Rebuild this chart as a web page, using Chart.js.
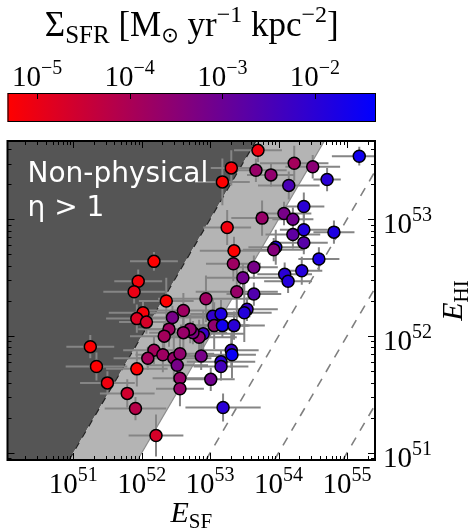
<!DOCTYPE html>
<html>
<body style="margin:0;background:#fff">
<canvas id="chart" width="474" height="532"></canvas>
<script src="https://cdn.jsdelivr.net/npm/chart.js@4/dist/chart.umd.min.js"></script>
<script>
// log10 of E_SF, E_HI and Sigma_SFR for each galaxy
const logESF = [53.70, 53.31, 53.18, 53.67, 53.89, 54.23, 54.50, 54.15, 54.71, 55.18,
  54.37, 53.76, 54.08, 54.21, 53.25, 54.37, 54.81, 54.21, 54.37, 53.96,
  53.93, 53.35, 53.34, 53.64, 54.59, 53.48, 54.09, 54.14, 54.34, 53.39,
  53.64, 52.94, 53.54, 53.50, 53.04, 53.16, 53.06, 53.18, 53.35, 52.90,
  52.84, 52.75, 52.71, 52.61, 52.18, 51.95, 51.89, 52.36, 52.61, 52.45,
  52.02, 51.93, 52.07, 52.40, 52.33, 51.25, 52.18, 52.09, 52.31, 52.47,
  52.56, 52.52, 52.56, 52.56, 51.34, 51.50, 51.93, 51.79, 51.91, 52.21,
  52.87, 53.31, 53.32, 53.16, 53.16, 53.01, 53.19];
const logEHI = [53.59, 53.44, 53.32, 53.42, 53.38, 53.48, 53.45, 53.29, 53.34, 53.54,
  53.11, 53.01, 53.05, 53.00, 52.93, 52.91, 52.89, 52.87, 52.80, 52.76,
  52.74, 52.73, 52.62, 52.59, 52.66, 52.50, 52.53, 52.47, 52.56, 52.38,
  52.36, 52.32, 52.23, 52.20, 52.17, 52.19, 52.09, 52.09, 52.09, 52.02,
  51.99, 52.03, 52.06, 52.03, 52.64, 52.47, 52.38, 52.30, 52.22, 52.16,
  52.20, 52.15, 52.12, 52.06, 52.00, 51.91, 51.88, 51.81, 51.84, 51.81,
  51.85, 51.75, 51.64, 51.55, 51.74, 51.60, 51.72, 51.51, 51.38, 51.15,
  51.83, 51.88, 51.84, 51.78, 51.74, 51.63, 51.39];
const logSigma = [-5.1, -5.2, -5.3, -3.7, -3.6, -3.9, -3.5, -2.5, -2.0, -1.6,
  -2.0, -3.7, -3.2, -3.1, -5.1, -1.9, -1.8, -2.8, -2.7, -1.8,
  -3.4, -5.3, -3.8, -3.2, -1.8, -3.1, -2.0, -1.9, -1.9, -3.7,
  -2.6, -3.8, -2.2, -1.9, -2.1, -1.8, -3.6, -1.6, -2.0, -2.2,
  -3.6, -3.3, -3.6, -3.7, -5.3, -5.2, -5.0, -5.3, -3.8, -3.2,
  -5.2, -4.8, -4.7, -3.8, -3.9, -5.3, -3.9, -3.9, -3.8, -3.7,
  -3.6, -3.2, -3.7, -3.7, -5.3, -5.1, -5.3, -4.6, -4.2, -4.7,
  -3.2, -2.2, -1.5, -2.0, -2.4, -3.1, -2.0];
// error bars in dex
const errESF = [0.35, 0.30, 0.40, 0.45, 0.35, 0.50, 0.40, 0.45, 0.20, 0.40,
  0.30, 0.45, 0.40, 0.30, 0.35, 0.35, 0.30, 0.40, 0.35, 0.40,
  0.45, 0.50, 0.40, 0.35, 0.30, 0.55, 0.40, 0.35, 0.30, 0.60,
  0.40, 0.70, 0.45, 0.40, 0.55, 0.45, 0.50, 0.40, 0.45, 0.60,
  0.55, 0.50, 0.60, 0.50, 0.35, 0.35, 0.45, 0.40, 0.60, 0.55,
  0.50, 0.45, 0.40, 0.45, 0.50, 0.35, 0.45, 0.50, 0.40, 0.55,
  0.50, 0.45, 0.40, 0.35, 0.45, 0.40, 0.45, 0.40, 0.45, 0.40,
  0.45, 0.40, 0.35, 0.50, 0.40, 0.35, 0.55];
const errEHI = [0.10, 0.15, 0.20, 0.10, 0.10, 0.15, 0.10, 0.12, 0.10, 0.08,
  0.12, 0.15, 0.10, 0.10, 0.15, 0.15, 0.10, 0.12, 0.10, 0.15,
  0.10, 0.12, 0.15, 0.10, 0.10, 0.12, 0.10, 0.10, 0.12, 0.25,
  0.10, 0.20, 0.10, 0.25, 0.15, 0.12, 0.20, 0.10, 0.12, 0.20,
  0.15, 0.10, 0.12, 0.15, 0.08, 0.10, 0.10, 0.20, 0.15, 0.10,
  0.10, 0.12, 0.10, 0.15, 0.12, 0.10, 0.12, 0.10, 0.15, 0.20,
  0.15, 0.10, 0.12, 0.15, 0.12, 0.10, 0.15, 0.12, 0.10, 0.18,
  0.12, 0.15, 0.20, 0.10, 0.12, 0.10, 0.12];

const xTicks = [51, 52, 53, 54, 55];
const yTicks = [51, 52, 53];
const cbTicks = [-5, -4, -3, -2];
const etaEdges = [0, -1];        // log(E_HI/E_SF) of the shaded edges
const etaDashed = [-2, -3, -4];  // dashed eta lines
const xRange = [50.04, 55.41];
const yRange = [50.94, 53.67];
const cbRange = [-5.32, -1.34];

function cmap(v) {
  let t = (v - cbRange[0]) / (cbRange[1] - cbRange[0]);
  t = Math.max(0, Math.min(1, t));
  return `rgb(${Math.round(255 * (1 - t))},0,${Math.round(255 * t)})`;
}

const points = logESF.map((x, i) => ({x: x, y: logEHI[i]}));
const colors = logSigma.map(cmap);

const SERIF = '"Liberation Serif", "DejaVu Serif", serif';
function fontOf(s) {
  return (s.it ? 'italic ' : '') + s.size + 'px ' + (s.fam || SERIF);
}
function drawRich(ctx, segs, x, y, align) {
  let w = 0;
  segs.forEach(s => { ctx.font = fontOf(s); w += ctx.measureText(s.t).width; });
  let cx = align === 'center' ? x - w / 2 : (align === 'right' ? x - w : x);
  ctx.textAlign = 'left';
  ctx.textBaseline = 'alphabetic';
  segs.forEach(s => {
    ctx.font = fontOf(s);
    ctx.fillText(s.t, cx, y + (s.dy || 0));
    cx += ctx.measureText(s.t).width;
  });
}
function pow10(n) {
  return [{t: '10', size: 29}, {t: (n < 0 ? '\u2212' + (-n) : '' + n), size: 20, dy: -12}];
}

const backdrop = {
  id: 'backdrop',
  beforeDatasetsDraw(chart) {
    const {ctx, chartArea: a, scales: {x, y}} = chart;
    const P = (vx, vy) => [x.getPixelForValue(vx), y.getPixelForValue(vy)];
    const y0 = yRange[0], y1 = yRange[1];
    ctx.save();
    ctx.beginPath();
    ctx.rect(a.left, a.top, a.width, a.height);
    ctx.clip();

    // non-physical region (eta > 1)
    ctx.fillStyle = '#555555';
    ctx.beginPath();
    [[xRange[0] - 1, y0], [y0 - etaEdges[0], y0], [y1 - etaEdges[0], y1], [xRange[0] - 1, y1]]
      .forEach((p, i) => { const q = P(p[0], p[1]); i ? ctx.lineTo(q[0], q[1]) : ctx.moveTo(q[0], q[1]); });
    ctx.fill();

    // 0.1 < eta < 1 band
    ctx.fillStyle = '#b4b4b4';
    ctx.beginPath();
    [[y0 - etaEdges[0], y0], [y0 - etaEdges[1], y0], [y1 - etaEdges[1], y1], [y1 - etaEdges[0], y1]]
      .forEach((p, i) => { const q = P(p[0], p[1]); i ? ctx.lineTo(q[0], q[1]) : ctx.moveTo(q[0], q[1]); });
    ctx.fill();

    // edge lines
    let q0 = P(y0 - etaEdges[0], y0), q1 = P(y1 - etaEdges[0], y1);
    ctx.strokeStyle = '#222';
    ctx.lineWidth = 1.2;
    ctx.setLineDash([7, 6]);
    ctx.beginPath(); ctx.moveTo(q0[0], q0[1]); ctx.lineTo(q1[0], q1[1]); ctx.stroke();
    q0 = P(y0 - etaEdges[1], y0); q1 = P(y1 - etaEdges[1], y1);
    ctx.strokeStyle = '#8c8c8c';
    ctx.setLineDash([]);
    ctx.beginPath(); ctx.moveTo(q0[0], q0[1]); ctx.lineTo(q1[0], q1[1]); ctx.stroke();

    ctx.strokeStyle = '#808080';
    ctx.lineWidth = 1.6;
    ctx.setLineDash([9, 8]);
    etaDashed.forEach(off => {
      const a0 = P(y0 - off, y0), a1 = P(y1 - off, y1);
      ctx.beginPath(); ctx.moveTo(a0[0], a0[1]); ctx.lineTo(a1[0], a1[1]); ctx.stroke();
    });
    ctx.setLineDash([]);

    // error bars
    ctx.strokeStyle = '#858585';
    ctx.lineWidth = 2;
    logESF.forEach((vx, i) => {
      const vy = logEHI[i];
      const l = P(vx - errESF[i], vy), r = P(vx + errESF[i], vy);
      const t = P(vx, vy + errEHI[i]), b = P(vx, vy - errEHI[i]);
      ctx.beginPath();
      ctx.moveTo(l[0], l[1]); ctx.lineTo(r[0], r[1]);
      ctx.moveTo(t[0], t[1]); ctx.lineTo(b[0], b[1]);
      ctx.stroke();
    });

    // label
    ctx.fillStyle = '#ffffff';
    ctx.font = '28px "DejaVu Sans"';
    ctx.textAlign = 'left';
    ctx.textBaseline = 'alphabetic';
    ctx.fillText('Non-physical', a.left + 20, a.top + 41);
    ctx.fillText('\u03b7 > 1', a.left + 20, a.top + 75);
    ctx.restore();
  }
};

const frame = {
  id: 'frame',
  afterDraw(chart) {
    const {ctx, chartArea: a, scales: {x, y}} = chart;
    ctx.save();
    ctx.strokeStyle = '#000';
    ctx.fillStyle = '#000';

    // minor + major ticks, inward on all sides
    ctx.lineWidth = 1;
    for (let n = 49; n <= 56; n++) {
      for (let k = 1; k <= 9; k++) {
        const v = n + Math.log10(k);
        const len = k === 1 ? 7 : 4;
        if (v > xRange[0] && v < xRange[1]) {
          const px = Math.round(x.getPixelForValue(v)) + 0.5;
          ctx.beginPath();
          ctx.moveTo(px, a.bottom); ctx.lineTo(px, a.bottom - len);
          ctx.moveTo(px, a.top); ctx.lineTo(px, a.top + len);
          ctx.stroke();
        }
        if (v > yRange[0] && v < yRange[1]) {
          const py = Math.round(y.getPixelForValue(v)) + 0.5;
          ctx.beginPath();
          ctx.moveTo(a.left, py); ctx.lineTo(a.left + len, py);
          ctx.moveTo(a.right, py); ctx.lineTo(a.right - len, py);
          ctx.stroke();
        }
      }
    }
    ctx.lineWidth = 2;
    ctx.strokeRect(a.left, a.top, a.width, a.height);

    // tick labels
    xTicks.forEach(n => drawRich(ctx, pow10(n), x.getPixelForValue(n), a.bottom + 33, 'center'));
    yTicks.forEach(n => drawRich(ctx, pow10(n), a.right + 8, y.getPixelForValue(n) + 14, 'left'));

    // axis titles
    drawRich(ctx, [{t: 'E', size: 30, it: true}, {t: 'SF', size: 21, dy: 6}], (a.left + a.right) / 2, a.bottom + 62, 'center');
    ctx.save();
    ctx.translate(a.right + 87, (a.top + a.bottom) / 2);
    ctx.rotate(-Math.PI / 2);
    drawRich(ctx, [{t: 'E', size: 30, it: true}, {t: 'HI', size: 21, dy: 6}], 0, 0, 'center');
    ctx.restore();

    // colour bar
    const cb = {left: a.left, right: a.right + 1, top: 93, bottom: 122};
    const cbX = v => cb.left + (v - cbRange[0]) / (cbRange[1] - cbRange[0]) * (cb.right - cb.left);
    const g = ctx.createLinearGradient(cb.left, 0, cb.right, 0);
    g.addColorStop(0, cmap(cbRange[0]));
    g.addColorStop(1, cmap(cbRange[1]));
    ctx.fillStyle = g;
    ctx.fillRect(cb.left, cb.top, cb.right - cb.left, cb.bottom - cb.top);
    ctx.lineWidth = 1;
    ctx.strokeRect(cb.left + 0.5, cb.top + 0.5, cb.right - cb.left - 1, cb.bottom - cb.top - 1);
    ctx.fillStyle = '#000';
    cbTicks.forEach(v => {
      const px = Math.round(cbX(v)) + 0.5;
      ctx.beginPath(); ctx.moveTo(px, cb.top); ctx.lineTo(px, cb.top + 6); ctx.stroke();
      drawRich(ctx, pow10(v), cbX(v), cb.top - 7, 'center');
    });
    drawRich(ctx, [
      {t: '\u03a3', size: 35}, {t: 'SFR', size: 25, dy: 7},
      {t: ' [M', size: 35}, {t: '\u2299', size: 21, dy: 6, fam: '"DejaVu Sans"'},
      {t: ' yr', size: 35}, {t: '\u22121', size: 24, dy: -14},
      {t: ' kpc', size: 35}, {t: '\u22122', size: 24, dy: -14},
      {t: ']', size: 35}
    ], (cb.left + cb.right) / 2, 36, 'center');
    ctx.restore();
  }
};

new Chart('chart', {
  type: 'scatter',
  data: {
    datasets: [{
      data: points,
      backgroundColor: colors,
      borderColor: '#000',
      borderWidth: 1.5,
      pointRadius: 6,
      pointHoverRadius: 6
    }]
  },
  options: {
    responsive: false,
    animation: false,
    layout: {padding: {left: 7, right: 99, top: 141, bottom: 72}},
    plugins: {legend: {display: false}, tooltip: {enabled: false}},
    scales: {
      x: {type: 'linear', min: xRange[0], max: xRange[1], display: false},
      y: {type: 'linear', min: yRange[0], max: yRange[1], display: false}
    }
  },
  plugins: [backdrop, frame]
});
</script>
</body>
</html>
